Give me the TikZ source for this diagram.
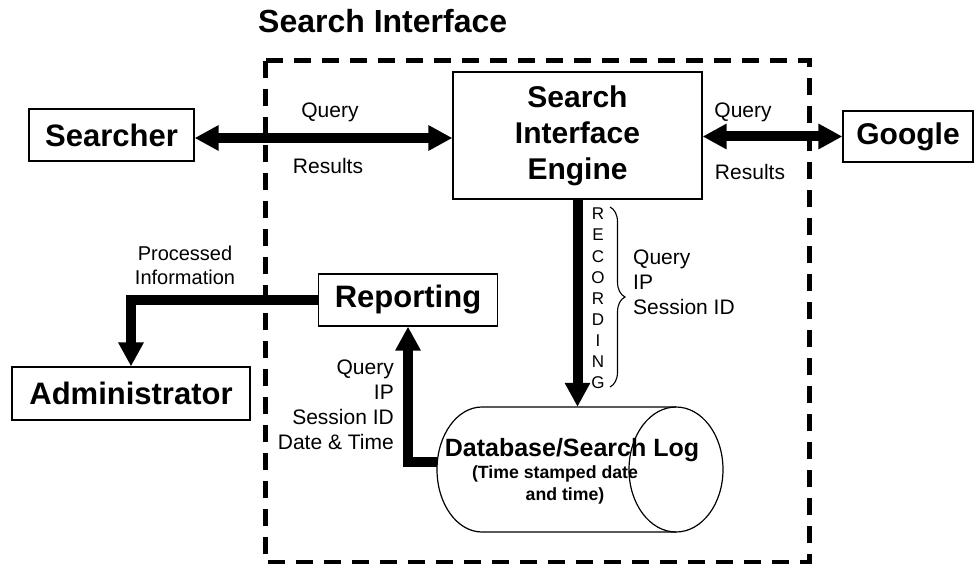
\documentclass[tikz,border=0pt]{standalone}
\usepackage{fontspec}
\setmainfont{Liberation Sans}
\usetikzlibrary{arrows.meta,decorations.pathreplacing}

\tikzset{
  box/.style={draw, line width=1.2pt, inner sep=0pt, align=center,
    font=\bfseries\fontsize{31}{37}\selectfont},
  flow/.style={line width=10pt, -{Triangle[length=24pt,width=24pt]}},
  flowboth/.style={line width=10pt,
    {Triangle[length=24pt,width=24pt]}-{Triangle[length=24pt,width=24pt]}},
  lbl/.style={inner sep=0pt, font=\fontsize{21}{25}\selectfont},
  boundary/.style={line width=5pt, dash pattern=on 17pt off 11pt},
  outline/.style={line width=1.2pt},
}

\begin{document}
\begin{tikzpicture}[x=1pt,y=-1pt]
\useasboundingbox (0,0) rectangle (974,564);

% system boundary
\draw[boundary] (265,61) rectangle (809,562);
\node[anchor=base west, inner sep=0pt, font=\bfseries\fontsize{32}{38}\selectfont]
  (title) at (258,33) {Search Interface};

% actors and components
\node[box, minimum width=165pt, minimum height=52pt] (searcher) at (111.5,135) {Searcher};
\node[box, minimum width=249pt, minimum height=127pt,
  font=\bfseries\fontsize{30}{36}\selectfont] (sie) at (577.5,135.5) {Search\\Interface\\Engine};
\node[box, minimum width=130pt, minimum height=51pt,
  font=\bfseries\fontsize{30}{36}\selectfont] (google) at (908,136.5) {Google};
\node[box, minimum width=179pt, minimum height=52pt] (rep) at (408,300) {Reporting};
\node[box, minimum width=238pt, minimum height=53pt] (admin) at (131,393.5) {Administrator};

% database / search log (horizontal cylinder)
\node[inner sep=0pt, minimum width=286pt, minimum height=125pt] (db) at (580,469.5) {};
\draw[outline] (676,407) -- (482,407)
  arc[start angle=90, end angle=270, x radius=45pt, y radius=62.5pt] -- (676,532);
\draw[outline] (676,469.5) ellipse [x radius=47pt, y radius=62.5pt];
\node[anchor=base, inner sep=0pt, font=\bfseries\fontsize{25}{30}\selectfont]
  (dbtitle) at (572,456) {Database/Search Log};
\node[anchor=base, inner sep=0pt, font=\bfseries\fontsize{17.7}{22}\selectfont]
  (dbnote1) at (555,478) {(Time stamped date};
\node[anchor=base, inner sep=0pt, font=\bfseries\fontsize{17.7}{22}\selectfont]
  (dbnote2) at (565,500) {and time)};

% connectors
\coordinate (sl) at ([yshift=-3pt]searcher.east);
\draw[flowboth] (sl) -- (sl -| sie.west);
\draw[flowboth] (google.west -| sie.east) -- (google.west);
\draw[flow] (sie.south) -- (sie.south |- db.north);
\coordinate (dbport) at (437.3,462);
\draw[flow] (dbport) -| (rep.south);
\draw[flow] (rep.west) -| (admin.north);

% connector labels
\node[lbl] (q1) at (330,112) {Query};
\node[lbl] (r1) at (328,166) {Results};
\node[lbl] (q2) at (743,112) {Query};
\node[lbl] (r2) at (750,172) {Results};
\node[lbl, align=center, font=\fontsize{20}{24}\selectfont] (proc) at (185,265)
  {Processed\\Information};
\node[lbl, align=right, anchor=east] (fields1) at (394,405)
  {Query\\IP\\Session ID\\Date \& Time};

% recording annotation
\node[inner sep=0pt, align=center, font=\fontsize{17}{21.1}\selectfont] (rec) at (598,298.5)
  {R\\E\\C\\O\\R\\D\\I\\N\\G};
\coordinate (bt) at (610,207);
\coordinate (bb) at (610,387);
\draw[line width=1.1pt, decorate, decoration={brace, amplitude=15pt}] (bt) -- (bb);
\node[lbl, align=left, anchor=west] (fields2) at (633,282) {Query\\IP\\Session ID};
\end{tikzpicture}
\end{document}
